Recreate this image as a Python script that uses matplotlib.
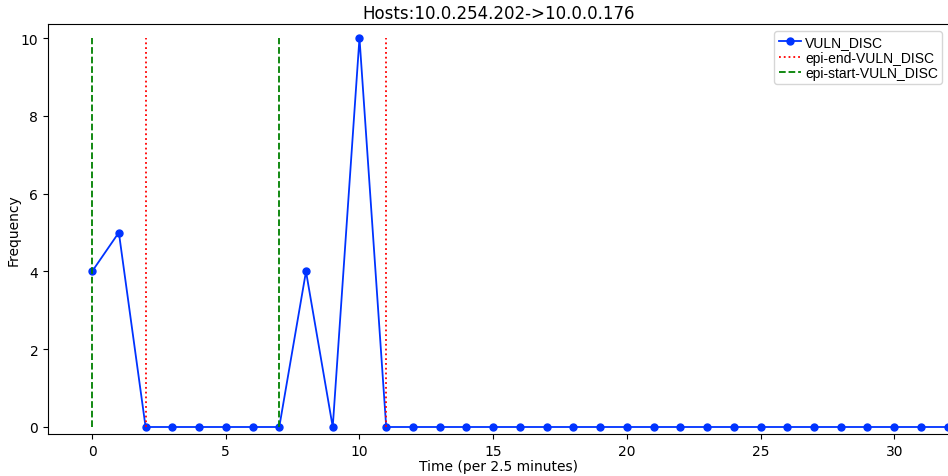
import matplotlib
matplotlib.use("Agg")
from matplotlib import pyplot as plt

# frequency per 2.5-minute bin
time_bins = list(range(0, 34))
vuln_disc = [4, 5, 0, 0, 0, 0, 0, 0, 4, 0, 10, 0] + [0] * 22
epi_start = [0, 7]
epi_end = [2, 11]
title = "Hosts:10.0.254.202->10.0.0.176"

fig = plt.figure(figsize=(9.48, 4.77), dpi=100)
ax = fig.add_axes([48 / 948, 42 / 477, 901 / 948, 410 / 477])

ax.plot(time_bins, vuln_disc, color="#0033ff", marker="o", markersize=5, linewidth=1.3, label="VULN_DISC")
ax.vlines(epi_end, 0, max(vuln_disc), colors="red", linestyles=":", linewidth=1.3, label="epi-end-VULN_DISC")
ax.vlines(epi_start, 0, max(vuln_disc), colors="green", linestyles="--", linewidth=1.3, label="epi-start-VULN_DISC")

ax.set_xlim(-1.65, 32.05)
ax.set_ylim(-0.18, 10.36)
ax.set_xticks([0, 5, 10, 15, 20, 25, 30])
ax.tick_params(labelsize=10)
ax.set_xlabel("Time (per 2.5 minutes)", fontsize=10, labelpad=1)
ax.set_ylabel("Frequency", fontsize=10, labelpad=0)
ax.set_title(title, fontsize=12, pad=4)
ax.legend(loc="upper right", prop={"family": "Liberation Sans", "size": 10},
          handlelength=1.6, handletextpad=0.3, borderpad=0.3, labelspacing=0.1)

fig.savefig("out.png", dpi=100)
